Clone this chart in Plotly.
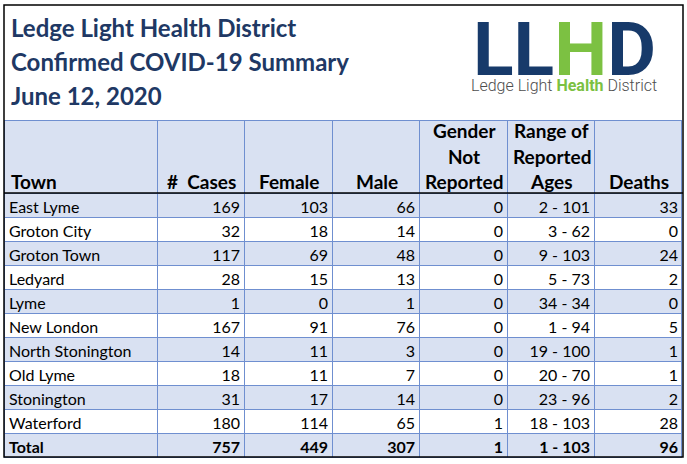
import plotly.graph_objects as go

towns = ["East Lyme", "Groton City", "Groton Town", "Ledyard", "Lyme", "New London",
         "North Stonington", "Old Lyme", "Stonington", "Waterford", "Total"]
cases = [169, 32, 117, 28, 1, 167, 14, 18, 31, 180, 757]
female = [103, 18, 69, 15, 0, 91, 11, 11, 17, 114, 449]
male = [66, 14, 48, 13, 1, 76, 3, 7, 14, 65, 307]
not_reported = [0, 0, 0, 0, 0, 0, 0, 0, 0, 1, 1]
age_range = ["2 - 101", "3 - 62", "9 - 103", "5 - 73", "34 - 34", "1 - 94",
             "19 - 100", "20 - 70", "23 - 96", "18 - 103", "1 - 103"]
deaths = [33, 0, 24, 2, 0, 5, 1, 1, 2, 28, 96]

# header labels, one list of lines per column (bottom aligned)
headers = [["Town"], ["#  Cases"], ["Female"], ["Male"],
           ["Gender", "Not", "Reported"], ["Range of", "Reported", "Ages"], ["Deaths"]]

title_lines = ["Ledge Light Health District", "Confirmed COVID-19 Summary", "June 12, 2020"]

W, H = 687, 464
NAVY = "#203864"
LOGO_NAVY = "#173a6a"
GREEN = "#7cc142"
BAND = "#d9e1f2"
GRID = "#6f8fd0"
CLEAR = "rgba(0,0,0,0)"

col_px = [154, 87, 88, 87, 88, 87, 88]
left, top_table, header_h, row_h = 4, 120, 73, 24
right = left + sum(col_px)
shift = 3  # plotly pads cell text by 8px, the sheet by about 5px

columns = [towns, cases, female, male, not_reported, age_range, deaths]
n_rows = len(towns)
row_fill = [BAND if i % 2 == 0 else "white" for i in range(n_rows)]

fig = go.Figure()

# grid: fills and borders
fig.add_trace(go.Table(
    domain=dict(x=[left / W, right / W], y=[0, 1 - top_table / H]),
    columnwidth=col_px,
    header=dict(values=[""] * 7, fill_color=BAND,
                line=dict(color=GRID, width=1), height=header_h),
    cells=dict(values=[[""] * n_rows] * 7, fill_color=[row_fill] * 7,
               line=dict(color=GRID, width=1), height=row_h),
))


def text_layer(values, skip, weight):
    # transparent table carrying only cell text, offset to the sheet's padding
    text_px = [col_px[0] + 2 * shift] + col_px[1:]
    return go.Table(
        domain=dict(x=[(left - shift) / W, (right + shift) / W], y=[0, 1 - top_table / H]),
        columnwidth=text_px,
        header=dict(values=[""] * 7, fill_color=CLEAR,
                    line=dict(color=CLEAR, width=0), height=header_h + skip * row_h),
        cells=dict(
            values=values,
            align=["left"] + ["right"] * 6,
            fill_color=CLEAR,
            line=dict(color=CLEAR, width=0),
            font=dict(family="Lato", size=16, color="black", weight=weight),
            height=row_h,
        ),
    )


# town rows, then the bold total row
fig.add_trace(text_layer([c[:-1] for c in columns], 0, "normal"))
fig.add_trace(text_layer([c[-1:] for c in columns], n_rows - 1, "bold"))

# header text, bottom aligned like the spreadsheet
x0 = left
for j, lines in enumerate(headers):
    n = len(lines)
    for k, txt in enumerate(lines):
        yc = top_table + 62 - 26 * (n - 1 - k)
        if j == 0:
            xa, xan = (x0 + 5) / W, "left"
        else:
            xa, xan = (x0 + col_px[j] / 2) / W, "center"
        fig.add_annotation(
            x=xa, y=1 - yc / H, xref="paper", yref="paper",
            xanchor=xan, yanchor="middle", showarrow=False,
            text="<b>" + txt + "</b>",
            font=dict(family="Lato", size=19, color="black"),
        )
    x0 += col_px[j]

# title block
for i, line in enumerate(title_lines):
    fig.add_annotation(
        x=9 / W, y=1 - (28 + 34 * i) / H, xref="paper", yref="paper",
        xanchor="left", yanchor="middle", showarrow=False,
        text="<b>" + line + "</b>",
        font=dict(family="Lato", size=24, color=NAVY),
    )

# logo
fig.add_annotation(
    x=564 / W, y=1 - 49 / H, xref="paper", yref="paper",
    xanchor="center", yanchor="middle", showarrow=False,
    text=("<b>LL<span style='color:%s'>H</span>D</b>" % GREEN),
    font=dict(family="Roboto", size=75, color=LOGO_NAVY, weight=900),
)
fig.add_annotation(
    x=564 / W, y=1 - 85 / H, xref="paper", yref="paper",
    xanchor="center", yanchor="middle", showarrow=False,
    text=("Ledge Light <b><span style='color:%s'>Health</span></b> District" % GREEN),
    font=dict(family="Roboto", size=16, color="#4d4d4d", weight=300),
)

# outer border and header rule
fig.add_shape(type="rect", xref="paper", yref="paper",
              x0=4 / W, x1=683 / W, y0=1 - 457 / H, y1=1 - 5 / H,
              line=dict(color="black", width=1.5))
fig.add_shape(type="line", xref="paper", yref="paper",
              x0=4 / W, x1=683 / W, y0=1 - 193 / H, y1=1 - 193 / H,
              line=dict(color="black", width=1.5))

fig.update_layout(
    width=W, height=H,
    margin=dict(l=0, r=0, t=0, b=0),
    paper_bgcolor="white",
    plot_bgcolor="white",
)

fig.write_html("out.html", config={"displayModeBar": False},
               post_script="document.body.style.margin='0';")
